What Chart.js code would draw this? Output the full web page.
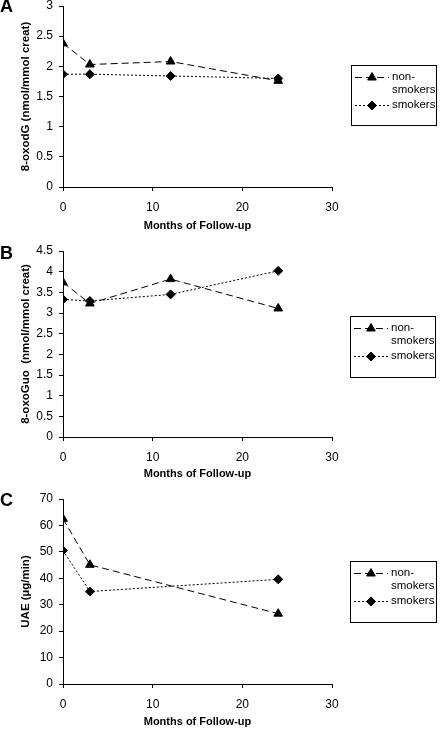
<!DOCTYPE html>
<html>
<head>
<meta charset="utf-8">
<script src="https://cdn.jsdelivr.net/npm/chart.js@4.4.0/dist/chart.umd.min.js"></script>
<style>
  body { margin: 0; background: #fff; width: 440px; height: 729px; position: relative; overflow: hidden; }
  .panel { position: absolute; left: 0; width: 440px; }
</style>
</head>
<body>
<div class="panel" style="top:0px;height:236px"><canvas id="chartA"></canvas></div>
<div class="panel" style="top:236px;height:248px"><canvas id="chartB"></canvas></div>
<div class="panel" style="top:484px;height:245px"><canvas id="chartC"></canvas></div>
<script>
// data
var seriesNames = ['non-smokers', 'smokers'];
var monthsAB = [0, 3, 12, 24];
var monthsC = [0, 3, 24];

var oxodgNonSmokers = [2.38, 2.03, 2.08, 1.76];
var oxodgSmokers = [1.87, 1.87, 1.84, 1.80];

var oxoguoNonSmokers = [3.74, 3.23, 3.82, 3.11];
var oxoguoSmokers = [3.33, 3.29, 3.45, 4.02];

var uaeNonSmokers = [62.5, 45.1, 26.6];
var uaeSmokers = [50.5, 35.0, 39.6];

var xTicks = [0, 10, 20, 30];
var yTicksA = [0, 0.5, 1, 1.5, 2, 2.5, 3];
var yTicksB = [0, 0.5, 1, 1.5, 2, 2.5, 3, 3.5, 4, 4.5];
var yTicksC = [0, 10, 20, 30, 40, 50, 60, 70];

var FONT = '"Liberation Sans", Arial, sans-serif';

function toPoints(xs, ys) {
    return xs.map(function (x, i) { return { x: x, y: ys[i] }; });
}

// legend drawn as a boxed key to the right of the plot
var boxLegend = {
    id: 'boxLegend',
    afterDraw: function (chart, args, opts) {
        var ctx = chart.ctx;
        ctx.save();
        // panel letter
        ctx.fillStyle = '#000';
        ctx.font = 'bold 18px ' + FONT;
        ctx.textBaseline = 'middle';
        ctx.textAlign = 'left';
        ctx.fillText(opts.letter, 0, opts.letterY);

        ctx.strokeStyle = '#000';
        ctx.lineWidth = 1;
        ctx.strokeRect(opts.left + 0.5, opts.top + 0.5, opts.width, opts.height);
        ctx.font = '11.5px ' + FONT;
        var y = opts.top + 12;
        chart.data.datasets.forEach(function (ds) {
            var cut = ds.label.indexOf('-');
            var lines = cut > 0 ? [ds.label.slice(0, cut + 1), ds.label.slice(cut + 1)] : [ds.label];
            ctx.strokeStyle = '#000';
            ctx.lineWidth = 1;
            ctx.setLineDash(ds.borderDash);
            ctx.beginPath();
            ctx.moveTo(opts.left + 4, y + 0.5);
            ctx.lineTo(opts.left + 38, y + 0.5);
            ctx.stroke();
            ctx.setLineDash([]);
            ctx.fillStyle = '#000';
            Chart.helpers.drawPoint(ctx, {
                pointStyle: ds.pointStyle, radius: ds.pointRadius, rotation: 0, borderWidth: 1
            }, opts.left + 21, y + 0.5);
            lines.forEach(function (t, k) {
                ctx.fillText(t, opts.left + 41, y + k * 13);
            });
            y += 13 * lines.length + 2;
        });
        ctx.restore();
    }
};

function makeChart(id, cfg) {
    var canvas = document.getElementById(id);
    var h = canvas.parentNode.clientHeight;
    return new Chart(canvas, {
        type: 'line',
        data: {
            datasets: [{
                label: seriesNames[0],
                data: toPoints(cfg.months, cfg.nonSmokers),
                borderColor: '#000',
                backgroundColor: '#000',
                borderWidth: 1,
                borderDash: [7, 4],
                pointStyle: 'triangle',
                pointRadius: 5,
                pointBackgroundColor: '#000',
                pointBorderColor: '#000',
                tension: 0
            }, {
                label: seriesNames[1],
                data: toPoints(cfg.months, cfg.smokers),
                borderColor: '#000',
                backgroundColor: '#000',
                borderWidth: 1,
                borderDash: [2, 2],
                pointStyle: 'rectRot',
                pointRadius: 4.5,
                pointBackgroundColor: '#000',
                pointBorderColor: '#000',
                tension: 0
            }]
        },
        options: {
            responsive: true,
            maintainAspectRatio: false,
            animation: false,
            layout: { padding: { top: cfg.areaTop, right: 108, bottom: 0, left: 0 } },
            plugins: {
                legend: { display: false },
                tooltip: { enabled: false },
                boxLegend: cfg.legend
            },
            scales: {
                x: {
                    type: 'linear',
                    min: 0,
                    max: 30,
                    afterBuildTicks: function (s) { s.ticks = xTicks.map(function (v) { return { value: v }; }); },
                    afterFit: function (s) { s.height = h - cfg.areaBottom; s.paddingLeft = 0; s.paddingRight = 0; },
                    border: { color: '#000', width: 1 },
                    grid: { drawOnChartArea: false, color: '#000', tickLength: 4 },
                    ticks: { color: '#000', padding: 9, maxRotation: 0, font: { family: FONT, size: 12 } },
                    title: {
                        display: true,
                        text: 'Months of Follow-up',
                        color: '#000',
                        font: { family: FONT, size: 11, weight: 'bold' },
                        padding: { top: 0, bottom: cfg.titleBottom }
                    }
                },
                y: {
                    min: 0,
                    max: cfg.yTicks[cfg.yTicks.length - 1],
                    afterBuildTicks: function (s) { s.ticks = cfg.yTicks.map(function (v) { return { value: v }; }); },
                    afterFit: function (s) { s.width = 63; s.paddingTop = 0; s.paddingBottom = 0; },
                    border: { color: '#000', width: 1 },
                    grid: { drawOnChartArea: false, color: '#000', tickLength: 4 },
                    ticks: {
                        color: '#000', padding: 6, font: { family: FONT, size: 12 },
                        callback: function (v) { return String(v); }
                    },
                    title: {
                        display: true,
                        text: cfg.yTitle,
                        color: '#000',
                        font: { family: FONT, size: 11.5, weight: 'bold' },
                        padding: { top: 19, bottom: 0 }
                    }
                }
            }
        },
        plugins: [boxLegend]
    });
}

makeChart('chartA', {
    months: monthsAB, nonSmokers: oxodgNonSmokers, smokers: oxodgSmokers,
    yTicks: yTicksA, yTitle: '8-oxodG (nmol/mmol creat)',
    areaTop: 5, areaBottom: 187, titleBottom: 3,
    legend: { letter: 'A', letterY: 7, left: 351, top: 65, width: 85, height: 60 }
});

makeChart('chartB', {
    months: monthsAB, nonSmokers: oxoguoNonSmokers, smokers: oxoguoSmokers,
    yTicks: yTicksB, yTitle: '8-oxoGuo  (nmol/mmol creat)',
    areaTop: 15, areaBottom: 201, titleBottom: 3,
    legend: { letter: 'B', letterY: 18, left: 350, top: 80, width: 85, height: 61 }
});

makeChart('chartC', {
    months: monthsC, nonSmokers: uaeNonSmokers, smokers: uaeSmokers,
    yTicks: yTicksC, yTitle: 'UAE (\u00b5g/min)',
    areaTop: 15, areaBottom: 200, titleBottom: 0,
    legend: { letter: 'C', letterY: 17, left: 350, top: 77, width: 86, height: 61 }
});
</script>
</body>
</html>
